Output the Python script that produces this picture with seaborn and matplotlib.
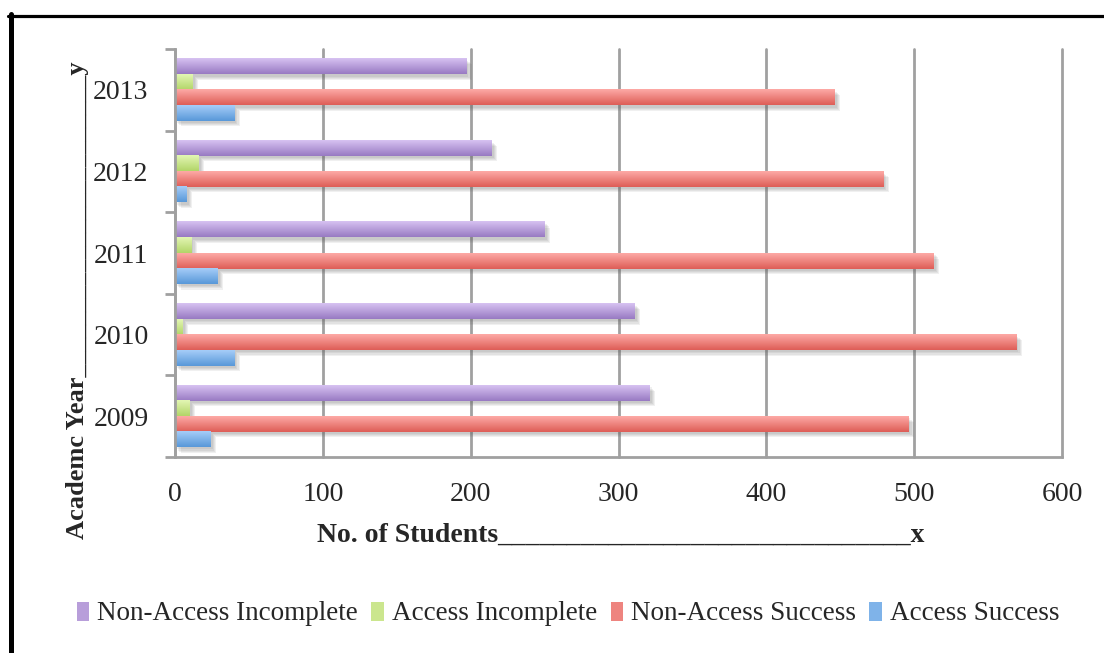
import numpy as np
import pandas as pd
import matplotlib
matplotlib.use("Agg")
import matplotlib.pyplot as plt
import seaborn as sns
from matplotlib import patheffects as pe
from matplotlib.lines import Line2D
from matplotlib.patches import Patch

# ---- data -------------------------------------------------------------
years = ["2009", "2010", "2011", "2012", "2013"]
non_access_incomplete = [321, 311, 250, 214, 197]
access_incomplete = [10, 5, 11, 16, 12]
non_access_success = [496, 569, 513, 479, 446]
access_success = [24, 40, 29, 8, 40]
series_names = ["Non-Access Incomplete", "Access Incomplete",
                "Non-Access Success", "Access Success"]
x_ticks = [0, 100, 200, 300, 400, 500, 600]

df = pd.DataFrame({
    "Year": years * 4,
    "Series": np.repeat(series_names, len(years)),
    "Students": non_access_incomplete + access_incomplete
                + non_access_success + access_success,
})

# gradient colours (top, bottom) for each series
grad_top = {
    "Non-Access Incomplete": "#d7c2f2",
    "Access Incomplete": "#e3f6b4",
    "Non-Access Success": "#fdaaa6",
    "Access Success": "#a6cdf8",
}
grad_bottom = {
    "Non-Access Incomplete": "#987ac2",
    "Access Incomplete": "#b2d568",
    "Non-Access Success": "#de5d57",
    "Access Success": "#5898d9",
}
mid = {k: tuple((np.array(matplotlib.colors.to_rgb(grad_top[k]))
                 + np.array(matplotlib.colors.to_rgb(grad_bottom[k]))) / 2)
       for k in series_names}

sns.set_style("white")
plt.rcParams["font.family"] = ["Liberation Serif", "DejaVu Serif"]

W, H = 1104, 653
fig = plt.figure(figsize=(W / 100, H / 100), dpi=100)
ax = fig.add_axes([175 / W, 1 - 457 / H, (1062 - 175) / W, (457 - 49) / H])

sns.barplot(data=df, x="Students", y="Year", hue="Series",
            order=years[::-1], hue_order=series_names, palette=mid,
            orient="h", width=0.76, gap=0, errorbar=None, saturation=1,
            legend=False, ax=ax)

ax.set_xlim(0, 600)
ax.set_ylim(4.5, -0.5)
ax.set_autoscale_on(False)

# soft, layered drop shadow
shadow = [pe.SimplePatchShadow(offset=(d, -d), shadow_rgbFace="0.35", alpha=0.09)
          for d in (4, 3.2, 2.4, 1.6)]

# gradient fill on every bar
ramp = np.linspace(0, 1, 64)[:, None, None]
for name, cont in zip(series_names, ax.containers):
    top = np.array(matplotlib.colors.to_rgb(grad_top[name]))
    bot = np.array(matplotlib.colors.to_rgb(grad_bottom[name]))
    img = top * (1 - ramp) + bot * ramp
    for bar in cont:
        x0, y0 = bar.get_x(), bar.get_y()
        w, h = bar.get_width(), bar.get_height()
        bar.set_edgecolor("none")
        bar.set_path_effects(shadow + [pe.Normal()])
        ax.imshow(img, extent=(x0, x0 + w, y0 + h, y0), origin="upper",
                  aspect="auto", interpolation="bilinear",
                  zorder=bar.get_zorder() + 0.1)

# axes styling
axis_grey = "#a0a0a0"
ax.set_axisbelow(True)
ax.xaxis.grid(True, color=axis_grey, lw=2)
ax.yaxis.grid(False)
for gl in ax.get_xgridlines():
    gl.set_clip_on(False)
for side in ("top", "right"):
    ax.spines[side].set_visible(False)
for side in ("left", "bottom"):
    ax.spines[side].set_color(axis_grey)
    ax.spines[side].set_linewidth(2)

ax.set_xticks(x_ticks)
ax.set_xticklabels([str(t) for t in x_ticks])
ax.set_yticks(range(len(years)))
ax.set_yticklabels(years[::-1])
ax.set_yticks(np.arange(-0.5, len(years), 1.0), minor=True)
ax.tick_params(axis="x", which="major", direction="out", length=7,
               width=2, color=axis_grey, pad=11, labelsize=20)
ax.tick_params(axis="y", which="major", length=0, pad=19, labelsize=20)
ax.tick_params(axis="y", which="minor", direction="out", length=7,
               width=2, color=axis_grey, left=True)
ax.set_xlabel("")
ax.set_ylabel("")

# axis titles
fig.text(621 / W, 1 - 535 / H, "No. of Students" + "_" * 30 + "x",
         ha="center", va="center", fontweight="bold", fontsize=20)
fig.text(78 / W, 1 - 300 / H, "Academc Year" + "_" * 23 + "y",
         ha="center", va="center", rotation=90, fontweight="bold",
         fontsize=19)

# legend
handles = [Patch(facecolor=mid[n], edgecolor="none") for n in series_names]
fig.legend(handles, series_names, loc="center",
           bbox_to_anchor=(568 / W, 1 - 614 / H), ncol=4, frameon=False,
           fontsize=19.5, handlelength=0.45, handleheight=0.7,
           handletextpad=0.3, columnspacing=0.5, borderaxespad=0)

# outer frame
fig.add_artist(Line2D([10.5 / W, 10.5 / W], [0, 1 - 14 / H],
                      transform=fig.transFigure, color="black", lw=3.6))
fig.add_artist(Line2D([8 / W, 1], [1 - 15.5 / H, 1 - 15.5 / H],
                      transform=fig.transFigure, color="black", lw=2.3))

fig.savefig("out.png", dpi=100)
